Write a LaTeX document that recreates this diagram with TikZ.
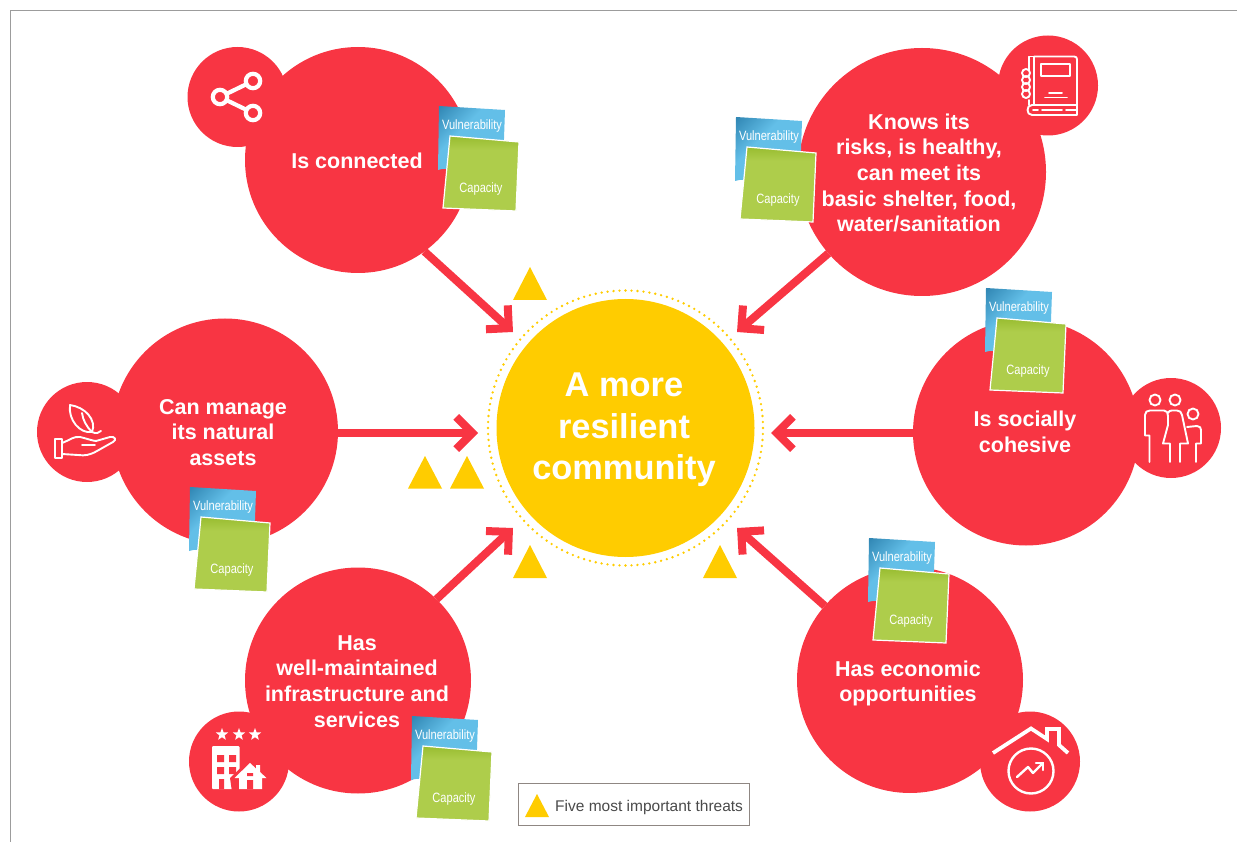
\documentclass[tikz,border=0pt]{standalone}
\usepackage{fontspec}
\setmainfont{Liberation Sans}
\newfontfamily\notefont[FakeStretch=0.82]{Liberation Sans}
\usetikzlibrary{arrows.meta,shapes.geometric}
\pgfdeclarearrow{
  name=Chevron,
  setup code={
    \pgfarrowssettipend{0pt}
    \pgfarrowssetlineend{-6pt}
    \pgfarrowssetbackend{-22pt}
    \pgfarrowssetvisualbackend{-22pt}
    \pgfarrowssavethe\pgfarrowlinewidth
  },
  drawing code={
    \pgfsetlinewidth{8pt}
    \pgfsetmiterjoin
    \pgfsetbuttcap
    \pgfpathmoveto{\pgfpoint{-21.83pt}{16.17pt}}
    \pgfpathlineto{\pgfpoint{-5.66pt}{0pt}}
    \pgfpathlineto{\pgfpoint{-21.83pt}{-16.17pt}}
    \pgfusepathqstroke
  }
}
\definecolor{redc}{HTML}{F83543}
\definecolor{yellowc}{HTML}{FFCC00}
\definecolor{blueL}{HTML}{63BFE8}
\definecolor{blueD}{HTML}{3288B5}
\definecolor{greenB}{HTML}{AECD4B}
\definecolor{greenT}{HTML}{98BC30}
\definecolor{framec}{HTML}{9C9C9C}
\definecolor{legendc}{HTML}{8F8783}
\definecolor{legendt}{HTML}{4A4A4A}
\pgfdeclareverticalshading{bluenoteshade}{100bp}{color(0bp)=(blueL); color(60bp)=(blueL); color(84bp)=(blueD); color(100bp)=(blueD)}
\pgfdeclareverticalshading{greennoteshade}{100bp}{color(0bp)=(greenB); color(66bp)=(greenB); color(75bp)=(greenT); color(100bp)=(greenT)}
\tikzset{
  big/.style={circle,fill=redc,minimum size=226pt,inner sep=0pt,outer sep=0pt},
  bigtext/.style={text=white,align=center,inner sep=0pt,font=\fontsize{21.5}{25.7}\selectfont\bfseries},
  small/.style={circle,fill=redc,minimum size=100pt,inner sep=0pt,outer sep=0pt},
  hub/.style={circle,fill=yellowc,minimum size=258pt,inner sep=0pt,outer sep=0pt},
  hubtext/.style={text=white,align=center,inner sep=0pt,font=\fontsize{34.4}{41.5}\selectfont\bfseries},
  ring/.style={circle,draw=yellowc,line width=2.6pt,line cap=round,dash pattern=on 0pt off 6pt,minimum size=275pt,inner sep=0pt},
  feed/.style={draw=redc,line width=8pt,-Chevron},
  threat/.style={fill=yellowc,draw=none},
  bluenote/.style={shade,shading=bluenoteshade,shading angle=45},
  greennote/.style={shade,shading=greennoteshade,draw=white,line width=1.2pt,line join=miter},
  notetext/.style={text=white,inner sep=0pt,font=\fontsize{13.5}{14}\notefont},
  iconline/.style={draw=white,line width=2.4pt,line join=round,line cap=round,fill=none},
  thinicon/.style={draw=white,line width=1.9pt,line join=round,line cap=round,fill=none},
  iconfill/.style={fill=white,draw=none},
  iconcut/.style={fill=redc,draw=none},
  staricon/.style={star,star points=5,star point ratio=2.4,fill=white,minimum size=13pt,inner sep=0pt},
  legendbox/.style={rectangle,draw=legendc,line width=1pt,fill=white,minimum width=231.5pt,minimum height=42pt,inner sep=0pt},
  legendlabel/.style={text=legendt,inner sep=0pt,anchor=west,font=\fontsize{15.5}{18}\selectfont},
}
\newcommand{\stickynote}[3]{%
  \path[bluenote] ({#2-42},{#3-81}) -- ({#2+24},{#3-77}) -- ({#2+22},{#3-20}) -- ({#2-25},{#3-17}) .. controls ({#2-32},{#3-18}) and ({#2-38},{#3-19}) .. ({#2-43},{#3-17}) -- cycle;
  \node[notetext] (#1vt) at ({#2-9},{#3-61}) {Vulnerability};
  \path[greennote] ({#2-31},{#3-51}) -- ({#2+38},{#3-45}) -- ({#2+35},{#3+24}) -- ({#2-38},{#3+21}) -- cycle;
  \node[notetext] (#1ct) at (#2,#3+2) {Capacity};
}
\begin{document}
\begin{tikzpicture}[x=1pt,y=-1pt]
\useasboundingbox (0,0) rectangle (1237,842);
\draw[framec,line width=1pt] (10,842) -- (10,11) -- (1237,11);

% small icon discs
\node[small] (s1) at (237.5,97) {};
\node[small] (s2) at (1048,85.5) {};
\node[small] (s3) at (1171,428) {};
\node[small] (s4) at (87,432) {};
\node[small] (s5) at (239,761.5) {};
\node[small] (s6) at (1030,761.5) {};

% big discs
\node[big] (conn) at (358,160) {};
\node[big,minimum size=248pt] (know) at (922,172) {};
\node[big] (soc) at (1026,432.5) {};
\node[big] (nat) at (225,431.5) {};
\node[big] (infra) at (358,680.5) {};
\node[big] (econ) at (910,680) {};
\node[bigtext] (connt) at (357,161) {Is connected};
\node[bigtext] (knowt) at (919,173) {Knows its\\risks, is healthy,\\can meet its\\basic shelter, food,\\water/sanitation};
\node[bigtext] (soct) at (1025,432) {Is socially\\cohesive};
\node[bigtext] (natt) at (223,432.5) {Can manage\\its natural\\assets};
\node[bigtext] (infrat) at (357,681.5) {Has\\well-maintained\\infrastructure and\\services};
\node[bigtext] (econt) at (908,683.5) {Has economic\\opportunities};

% hub
\node[ring] (halo) at (625.5,428) {};
\node[hub] (hub) at (625.5,428) {};
\node[hubtext] (hubt) at (624,430) {A more\\resilient\\community};

% arrow tips
\coordinate (tTL) at (513,332);
\coordinate (tTR) at (737,332);
\coordinate (tL) at (478,433);
\coordinate (tR) at (771,433);
\coordinate (tBL) at (513,528);
\coordinate (tBR) at (737,528);
\coordinate (fL) at (338,433);
\coordinate (fR) at (913,433);
\draw[feed] (conn.-54) -- (tTL);
\draw[feed] (know.-139.5) -- (tTR);
\draw[feed] (fL) -- (tL);
\draw[feed] (fR) -- (tR);
\draw[feed] (infra.46) -- (tBL);
\draw[feed] (econ.139) -- (tBR);

% threats
\fill[threat] (530,267) -- (547,300) -- (513,300) -- cycle;
\fill[threat] (425,456) -- (442,488.5) -- (408,488.5) -- cycle;
\fill[threat] (467,456) -- (484,488.5) -- (450,488.5) -- cycle;
\fill[threat] (530,545) -- (547,578) -- (513,578) -- cycle;
\fill[threat] (720,545) -- (737,578) -- (703,578) -- cycle;

% notes
\stickynote{na}{481}{187}
\stickynote{nb}{778}{198}
\stickynote{nc}{1028}{369}
\stickynote{nd}{232}{568}
\stickynote{ne}{454}{797}
\stickynote{nf}{911}{619}

% share icon
\draw[line width=4.2pt,draw=white] (220,97) -- (253,81) (220,97) -- (253,113);
\filldraw[fill=redc,draw=white,line width=4.2pt] (253,81) circle (7.2pt) (220,97) circle (7.2pt) (253,113) circle (7.2pt);

% book icon
\draw[thinicon] (1034,104.5) -- (1034,56.5) -- (1029,56.5) -- (1029,70) (1029,100) -- (1029,105);
\draw[thinicon] (1034,56.5) -- (1074,56.5) .. controls (1076,56.5) and (1077,57.5) .. (1077,59.5) -- (1077,115) -- (1032,115) .. controls (1026,115) and (1026,105) .. (1032,105) -- (1077,105);
\draw[thinicon] (1041,64) rectangle (1070,76);
\draw[thinicon] (1049,93) -- (1062,93) (1045,97.5) -- (1067,97.5);
\draw[thinicon] (1033,110) -- (1038,110) (1042,110) -- (1062,110) (1066,110) -- (1077,110);
\draw[thinicon] (1026,73) circle (4pt) (1026,80) circle (4pt) (1026,87) circle (4pt) (1026,94) circle (4pt);

% family icon
\draw[thinicon] (1155,400) circle (5.5pt) (1175,400) circle (5.5pt) (1193,414) circle (5.5pt);
\draw[thinicon] (1149.5,462) -- (1149.5,435.5) -- (1145,435.5) -- (1145,415) .. controls (1145,412) and (1147,410.5) .. (1150,410.5) -- (1164,410.5) .. controls (1167,410.5) and (1168,413) .. (1168,416) -- (1168,425) -- (1163,443.5) -- (1170,443.5) -- (1170,462);
\draw[thinicon] (1168,413) .. controls (1169,411) and (1170,410.5) .. (1172,410.5) -- (1177,410.5) .. controls (1180,410.5) and (1181,412) .. (1182,415) -- (1188,443.5) -- (1180,443.5) -- (1180,462);
\draw[thinicon] (1187,427) -- (1197,426) .. controls (1200,426) and (1201,428) .. (1201,430) -- (1201,443.5) -- (1196,443.5) -- (1196,462);

% hand and leaf icon
\draw[thinicon] (70,405) .. controls (85,407) and (97,420) .. (92,432) .. controls (80,434) and (68,420) .. (70,405) -- cycle;
\draw[thinicon] (82,413) .. controls (83,420) and (86,426) .. (92,432) .. controls (96,434) and (99,433) .. (101,431);
\draw[thinicon] (55,439) rectangle (62,458);
\draw[thinicon] (62,443) .. controls (70,440) and (74,436) .. (80,437) .. controls (85,438) and (93,441) .. (96,441) -- (110,437) .. controls (115,436) and (117,440) .. (113,442) -- (97,451) .. controls (90,455) and (85,456) .. (78,455) -- (62,454);
\draw[thinicon] (82,445) -- (95,445);

% building icon
\node[staricon] (st1) at (222,734.5) {};
\node[staricon] (st2) at (239,734.5) {};
\node[staricon] (st3) at (255,734.5) {};
\fill[iconfill,rounded corners=1pt] (212,746) rectangle (239.5,789);
\fill[iconcut] (217,755) rectangle (224,762) (229,755) rectangle (236,762) (217,767) rectangle (224,774) (229,767) rectangle (236,774) (219,779) rectangle (224,789);
\fill[iconcut] (250,759) -- (270,778) -- (264,792) -- (232,792) -- (230,778) -- cycle;
\fill[iconfill] (250,763) -- (256,768.5) -- (256,765) -- (260,765) -- (260,772) -- (266.5,778) -- (262,778) -- (262,789) -- (239,789) -- (239,778) -- (234.5,778) -- cycle;
\fill[iconcut] (247,780) rectangle (253,789) (247,773) rectangle (253,776);

% economy icon
\draw[iconline,line width=3.8pt,line cap=butt,line join=miter] (993,753) -- (1031,728.5) -- (1047,739) -- (1047,729) -- (1059,729) -- (1059,745) -- (1068,753);
\draw[iconline] (1031,771) circle (22.5pt);
\draw[iconline] (1017,777) -- (1028,767) -- (1033,773) -- (1043,763);
\draw[iconline] (1036,763) -- (1043,763) -- (1043,770);

% legend
\node[legendbox] (leg) at (634,804) {};
\fill[threat] (537,794) -- (549,817) -- (525,817) -- cycle;
\node[legendlabel] (legt) at (555,807) {Five most important threats};
\end{tikzpicture}
\end{document}
